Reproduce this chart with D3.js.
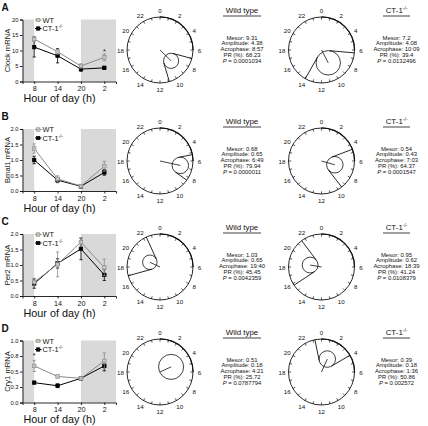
<!DOCTYPE html>
<html><head><meta charset="utf-8">
<script src="https://cdn.jsdelivr.net/npm/d3@7"></script>
<style>body{margin:0;background:#fff}svg{display:block;font-family:"Liberation Sans",Arial,sans-serif;opacity:0.999}</style>
</head><body><div id="chart"></div>
<script>
// ---------- DATA ----------
const hours = [8, 14, 20, 2];
const hourTickLabels = ["8", "14", "20", "2"];
const genes = ["Clock", "Bmal1", "Per2", "Cry1"];
const panelLetters = ["A", "B", "C", "D"];
const seriesNames = ["WT", "CT-1"];

const clockWT = [13.7, 9.6, 5.0, 7.8];   const clockWTerr = [0.8, 0.8, 0.7, 1.1];
const clockCT = [11.1, 8.3, 4.0, 4.4];   const clockCTerr = [3.2, 2.3, 0.7, 0.5];
const bmal1WT = [1.37, 0.39, 0.16, 0.80]; const bmal1WTerr = [0.15, 0.10, 0.03, 0.16];
const bmal1CT = [1.00, 0.35, 0.15, 0.60]; const bmal1CTerr = [0.12, 0.08, 0.03, 0.09];
const per2WT = [0.45, 1.02, 1.74, 0.92];  const per2WTerr = [0.12, 0.40, 0.12, 0.27];
const per2CT = [0.40, 1.05, 1.52, 0.68];  const per2CTerr = [0.15, 0.15, 0.35, 0.18];
const cry1WT = [0.59, 0.42, 0.39, 0.67];  const cry1WTerr = [0.09, 0.02, 0.02, 0.13];
const cry1CT = [0.32, 0.27, 0.39, 0.59];  const cry1CTerr = [0.01, 0.03, 0.02, 0.08];

const yMax = [20, 2, 2, 1];
const yTicks = [[0,5,10,15,20],[0,0.5,1,1.5,2],[0,0.5,1,1.5,2],[0,0.25,0.5,0.75,1]];
const yTickLabels = [["0","5","10","15","20"],["0.0","0.5","1.0","1.5","2.0"],["0.0","0.5","1.0","1.5","2.0"],["0.0","0.3","0.5","0.8","1.0"]];

const starPanel = [0, 3];
const starHour = [2, 8];
const starValue = [9.9, 0.78];

// cosinor results
const mesorWT = ["9.31","0.68","1.03","0.51"];
const ampWT   = ["4.38","0.65","0.65","0.18"];
const acroWT  = ["8:57","6:49","19:40","4:21"];
const prWT    = ["68.23","79.94","45.45","25.72"];
const pWT     = ["0.0001034","0.0000011","0.0042359","0.0787794"];
const mesorCT = ["7.2","0.54","0.95","0.39"];
const ampCT   = ["4.08","0.43","0.62","0.18"];
const acroCT  = ["10:09","7:03","18:39","1:36"];
const prCT    = ["39.4","64.37","41.24","50.86"];
const pCT     = ["0.0132496","0.0001547","0.0108379","0.002572"];
// relative vector length and confidence-region radius (fraction of clock radius)
const vecWT = [0.47, 0.63, 0.34, 0.37]; const ellWT = [0.23, 0.25, 0.22, 0.38];
const vecCT = [0.44, 0.42, 0.35, 0.43]; const ellCT = [0.37, 0.25, 0.24, 0.25];

// ---------- BUILD ----------
const series = [
  [clockWT, clockWTerr, clockCT, clockCTerr],
  [bmal1WT, bmal1WTerr, bmal1CT, bmal1CTerr],
  [per2WT, per2WTerr, per2CT, per2CTerr],
  [cry1WT, cry1WTerr, cry1CT, cry1CTerr]
];
const W = 428, H = 426;
const ink = "#111";
const svg = d3.select("#chart").append("svg").attr("width", W).attr("height", H);

const plotTops = [19.5, 129, 234, 340.5];
const plotH = 62;
const hourPos = hours.map(h => h < 8 ? h + 24 : h);
const x = d3.scaleLinear().domain([5, 29]).range([22.5, 116]);
const gray = "#8a8a8a";

plotTops.forEach((top, i) => {
  const g = svg.append("g");
  const y = d3.scaleLinear().domain([0, yMax[i]]).range([top + plotH, top]);
  g.append("rect").attr("x", x(5)).attr("y", top).attr("width", x(8) - x(5)).attr("height", plotH).attr("fill", "#d9d9d9");
  g.append("rect").attr("x", x(20)).attr("y", top).attr("width", x(29) - x(20)).attr("height", plotH).attr("fill", "#d9d9d9");
  const ya = g.append("g").attr("transform", `translate(${x(5)},0)`)
    .call(d3.axisLeft(y).tickValues(yTicks[i]).tickFormat((d, j) => yTickLabels[i][j]).tickSize(2.5).tickPadding(1.5));
  const xa = g.append("g").attr("transform", `translate(0,${top + plotH})`)
    .call(d3.axisBottom(x).tickValues(hourPos).tickFormat((d, j) => hourTickLabels[j]).tickSize(2.5).tickPadding(2));
  [ya, xa].forEach(a => {
    a.selectAll("path").attr("stroke", ink).attr("stroke-width", 0.9);
    a.selectAll("line").attr("stroke", ink).attr("stroke-width", 0.9);
    a.selectAll("text").attr("fill", ink).attr("font-family", "Liberation Sans, Arial, sans-serif");
  });
  ya.selectAll("text").attr("font-size", 5.8);
  xa.selectAll("text").attr("font-size", 7.2);
  g.append("text").attr("x", 1.5).attr("y", top - 9).attr("font-size", 10).attr("font-weight", "bold").attr("fill", ink).text(panelLetters[i]);
  g.append("text").attr("transform", `translate(9.8,${top + plotH / 2}) rotate(-90)`).attr("text-anchor", "middle")
    .attr("font-size", 7.6).attr("fill", ink).text(genes[i] + " mRNA");
  g.append("text").attr("x", 59.5).attr("y", top + plotH + 20.5).attr("text-anchor", "middle")
    .attr("font-size", 10.8).attr("fill", ink).text("Hour of day (h)");

  const [wt, wtE, ct, ctE] = series[i];
  const defs = [
    { v: ct, e: ctE, col: "#000", fill: "#000" },
    { v: wt, e: wtE, col: gray, fill: "#c4c4c4" }
  ];
  defs.forEach(s => {
    const pts = hourPos.map((h, j) => ({ h, v: s.v[j], e: s.e[j] }));
    g.append("path").datum(pts).attr("fill", "none").attr("stroke", s.col).attr("stroke-width", 1)
      .attr("d", d3.line().x(d => x(d.h)).y(d => y(d.v)));
    pts.forEach(p => {
      g.append("line").attr("x1", x(p.h)).attr("x2", x(p.h)).attr("y1", y(p.v - p.e)).attr("y2", y(p.v + p.e)).attr("stroke", s.col).attr("stroke-width", 0.8);
      [p.v - p.e, p.v + p.e].forEach(vv => g.append("line").attr("x1", x(p.h) - 1.6).attr("x2", x(p.h) + 1.6).attr("y1", y(vv)).attr("y2", y(vv)).attr("stroke", s.col).attr("stroke-width", 0.8));
      g.append("rect").attr("x", x(p.h) - 1.8).attr("y", y(p.v) - 1.8).attr("width", 3.6).attr("height", 3.6)
        .attr("fill", s.fill).attr("stroke", s.col).attr("stroke-width", 0.6);
    });
  });
  starPanel.forEach((pi, k) => {
    if (pi !== i) return;
    const hp = starHour[k] < 8 ? starHour[k] + 24 : starHour[k];
    g.append("text").attr("x", x(hp)).attr("y", y(starValue[k]) + 3.5).attr("text-anchor", "middle").attr("font-size", 7).attr("fill", ink).text("*");
  });
  const legY = [top + 0.5, top + 9];
  [{ c: gray, f: "#c4c4c4" }, { c: "#000", f: "#000" }].forEach((l, k) => {
    const ly = legY[k];
    g.append("line").attr("x1", 35).attr("x2", 41.5).attr("y1", ly).attr("y2", ly).attr("stroke", l.c).attr("stroke-width", 1);
    g.append("rect").attr("x", 36.5).attr("y", ly - 1.7).attr("width", 3.4).attr("height", 3.4).attr("fill", l.f).attr("stroke", l.c).attr("stroke-width", 0.6);
    const t = g.append("text").attr("x", 42.5).attr("y", ly + 2.6).attr("font-size", 7.4).attr("fill", ink).text(seriesNames[k]);
    if (k === 1) t.append("tspan").attr("dy", -3).attr("font-size", 4.6).text("-/-");
  });
});

// ---------- CLOCKS ----------
const clockCx = [160, 321.5];
const clockCy = [50, 161, 267, 372];
const R = 33;
const parseAcro = s => { const [h, m] = s.split(":").map(Number); return h + m / 60; };
const ang = h => h / 24 * 2 * Math.PI;
const pt = (a, r) => [Math.sin(a) * r, -Math.cos(a) * r];

clockCy.forEach((cy, i) => {
  [[acroWT, vecWT, ellWT], [acroCT, vecCT, ellCT]].forEach(([acro, vec, ell], gi) => {
    const cx = clockCx[gi];
    const g = svg.append("g").attr("transform", `translate(${cx},${cy})`);
    g.append("circle").attr("r", R).attr("fill", "none").attr("stroke", ink).attr("stroke-width", 0.9);
    g.append("path").attr("d", d3.arc()({ innerRadius: R - 0.5, outerRadius: R + 0.7, startAngle: 0, endAngle: ang(6) })).attr("fill", ink);
    d3.range(24).forEach(h => {
      const [x1, y1] = pt(ang(h), R - 2.6), [x2, y2] = pt(ang(h), R);
      g.append("line").attr("x1", x1).attr("y1", y1).attr("x2", x2).attr("y2", y2).attr("stroke", ink).attr("stroke-width", 0.7);
      if (h % 2 === 0) {
        const [lx, ly] = pt(ang(h), R + 6.5);
        g.append("text").attr("x", lx).attr("y", ly).attr("text-anchor", "middle").attr("dominant-baseline", "central")
          .attr("font-size", 6.2).attr("fill", ink).text(h);
      }
    });
    const a = ang(parseAcro(acro[i]));
    const v = vec[i] * R, e = ell[i] * R;
    const [ex, ey] = pt(a, v);
    g.append("line").attr("x1", 0).attr("y1", 0).attr("x2", ex).attr("y2", ey).attr("stroke", ink).attr("stroke-width", 0.8);
    g.append("circle").attr("cx", ex).attr("cy", ey).attr("r", e).attr("fill", "none").attr("stroke", ink).attr("stroke-width", 0.8);
    if (v > e) {
      const half = Math.asin(e / v);
      const tl = Math.sqrt(v * v - e * e);
      [a - half, a + half].forEach(b => {
        const [x1, y1] = pt(b, tl), [x2, y2] = pt(b, R);
        g.append("line").attr("x1", x1).attr("y1", y1).attr("x2", x2).attr("y2", y2).attr("stroke", ink).attr("stroke-width", 0.9);
      });
    }
  });
});

// ---------- TEXT BLOCKS ----------
const textX = [242, 396.5];
const blocks = [
  [mesorWT, ampWT, acroWT, prWT, pWT],
  [mesorCT, ampCT, acroCT, prCT, pCT]
];
clockCy.forEach((cy, i) => {
  blocks.forEach((b, gi) => {
    const tx = textX[gi];
    const g = svg.append("g").attr("font-size", 5.9).attr("fill", ink);
    const tt = g.append("text").attr("x", tx).attr("y", cy - 37).attr("text-anchor", "middle").attr("font-size", 7.9);
    if (gi === 0) tt.text("Wild type");
    else { tt.text("CT-1"); tt.append("tspan").attr("dy", -3).attr("font-size", 4.8).text("-/-"); }
    const hw = gi === 0 ? 19 : 13.5;
    g.append("line").attr("x1", tx - hw).attr("x2", tx + hw).attr("y1", cy - 34).attr("y2", cy - 34).attr("stroke", ink).attr("stroke-width", 0.8);
    const lines = ["Mesor: " + b[0][i], "Amplitude: " + b[1][i], "Acrophase: " + b[2][i], "PR (%): " + b[3][i]];
    lines.forEach((s, k) => g.append("text").attr("x", tx).attr("y", cy - 10.5 + k * 5.9).attr("text-anchor", "middle").text(s));
    const pl = g.append("text").attr("x", tx).attr("y", cy - 10.5 + 4 * 5.9).attr("text-anchor", "middle");
    pl.append("tspan").attr("font-style", "italic").text("P");
    pl.append("tspan").text(" = " + b[4][i]);
  });
});
</script></body></html>
